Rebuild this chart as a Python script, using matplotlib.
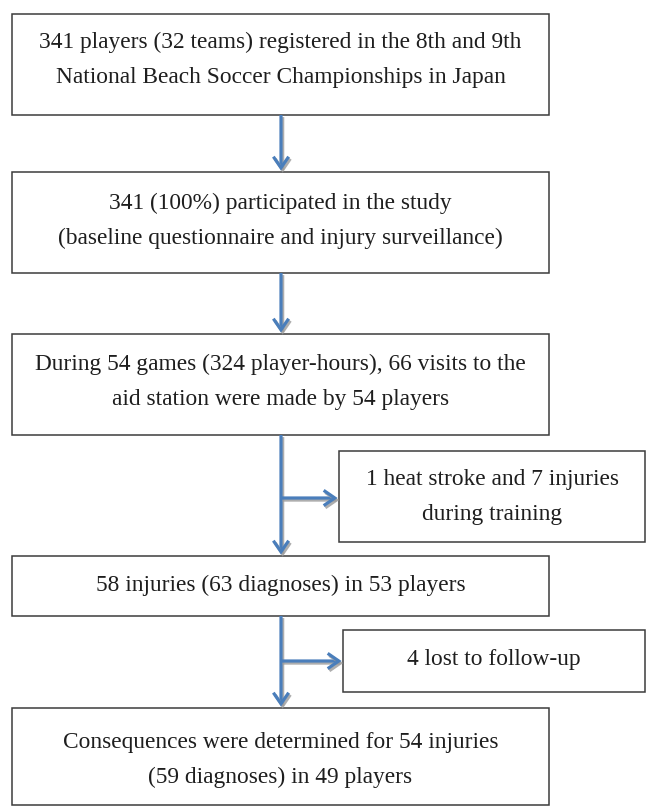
import matplotlib.pyplot as plt
from matplotlib.patches import Rectangle, FancyArrowPatch
import matplotlib.patheffects as pe

# Texts of the flow chart (main column and side exclusions)
main_texts = [
    "341 players (32 teams) registered in the 8th and 9th\nNational Beach Soccer Championships in Japan",
    "341 (100%) participated in the study\n(baseline questionnaire and injury surveillance)",
    "During 54 games (324 player-hours), 66 visits to the\naid station were made by 54 players",
    "58 injuries (63 diagnoses) in 53 players",
    "Consequences were determined for 54 injuries\n(59 diagnoses) in 49 players",
]
side_texts = [
    "1 heat stroke and 7 injuries\nduring training",
    "4 lost to follow-up",
]

# layout in pixels (x0, x1, y_top, y_bottom, text centre y)
main_boxes = [
    (12, 549, 14, 115, 60),
    (12, 549, 172, 273, 221),
    (12, 549, 334, 435, 382),
    (12, 549, 556, 616, 585),
    (12, 549, 708, 805, 760),
]
side_boxes = [
    (339, 645, 451, 542, 497),
    (343, 645, 630, 692, 660),
]
branch_y = [498, 661]
arrow_x = 281

W, H = 647, 806
fig = plt.figure(figsize=(W / 100, H / 100), dpi=100)
ax = fig.add_axes([0, 0, 1, 1])
ax.set_xlim(0, W)
ax.set_ylim(H, 0)
ax.axis('off')

font = dict(family='Liberation Serif', fontsize=16.8, color='#1e1e1e',
            ha='center', va='center', linespacing=1.85)
edge = '#3c3c3c'
blue = '#4a7ebb'

def box(b, txt):
    x0, x1, yt, yb, yc = b
    ax.add_patch(Rectangle((x0, yt), x1 - x0, yb - yt, fill=False,
                           edgecolor=edge, linewidth=1.1))
    ax.text((x0 + x1) / 2, yc, txt, **font)

for b, t in zip(main_boxes, main_texts):
    box(b, t)
for b, t in zip(side_boxes, side_texts):
    box(b, t)

shadow = [pe.SimpleLineShadow(offset=(1.2, -1.5), shadow_color='#9a9a9a', alpha=0.8),
          pe.Normal()]

def arrow(p0, p1):
    a = FancyArrowPatch(p0, p1, arrowstyle='->,head_length=8,head_width=5.5',
                        color=blue, linewidth=2.3, shrinkA=0, shrinkB=1,
                        joinstyle='miter', capstyle='butt')
    a.set_path_effects(shadow)
    ax.add_patch(a)

for i in range(4):
    arrow((arrow_x, main_boxes[i][3]), (arrow_x, main_boxes[i + 1][2]))
for i, yb in enumerate(branch_y):
    arrow((arrow_x, yb), (side_boxes[i][0], yb))

fig.savefig('out.png', dpi=100, facecolor='white')
